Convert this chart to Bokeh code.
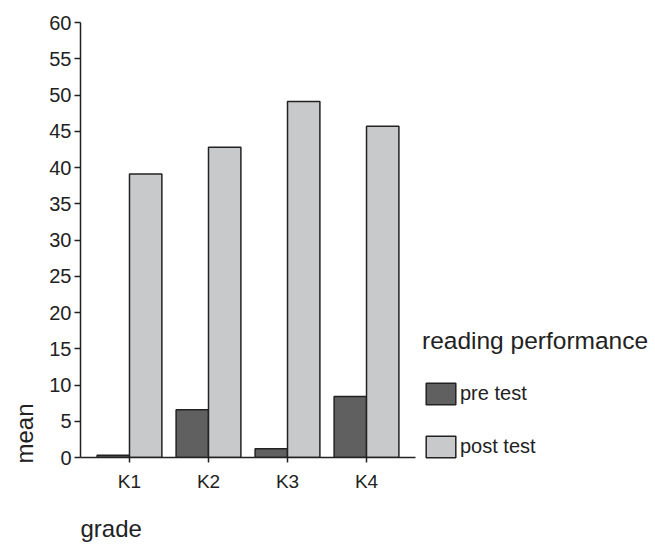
from bokeh.plotting import figure
from bokeh.models import ColumnDataSource, FixedTicker, Legend, LegendItem, Title, FactorRange
from bokeh.transform import dodge
from bokeh.embed import file_html
from bokeh.resources import INLINE

grades = ["K1", "K2", "K3", "K4"]
pre_test = [0.3, 6.6, 1.2, 8.4]
post_test = [39.1, 42.8, 49.1, 45.7]
y_ticks = list(range(0, 61, 5))

FONT = "Liberation Sans"
INK = "#222222"

src = ColumnDataSource(dict(grade=grades, pre=pre_test, post=post_test))

p = figure(x_range=FactorRange(factors=grades, range_padding=0.06), y_range=(0, 60),
           frame_width=335, frame_height=435, output_backend="svg", toolbar_location=None,
           min_border_left=80, min_border_top=22, min_border_bottom=90, min_border_right=2)
p.outline_line_color = None
p.grid.visible = False

w = 0.41
r_pre = p.vbar(x=dodge("grade", -w / 2, range=p.x_range), top="pre", width=w, source=src,
               fill_color="#606060", line_color=INK, line_width=1.5)
r_post = p.vbar(x=dodge("grade", w / 2, range=p.x_range), top="post", width=w, source=src,
                fill_color="#c8c9ca", line_color=INK, line_width=1.5)

for ax in (p.xaxis[0], p.yaxis[0]):
    ax.axis_line_color = INK
    ax.axis_line_width = 1.5
    ax.major_tick_line_color = INK
    ax.major_tick_line_width = 1.5
    ax.major_tick_in = 0
    ax.minor_tick_line_color = None
    ax.major_label_text_font = FONT
    ax.major_label_text_color = INK
p.yaxis.ticker = FixedTicker(ticks=y_ticks)
p.yaxis.major_tick_out = 6
p.yaxis.major_label_standoff = 3
p.yaxis.major_label_text_font_size = "20px"
p.xaxis.major_tick_out = 5
p.xaxis.major_label_standoff = 8
p.xaxis.major_label_text_font_size = "19px"

legend = Legend(items=[LegendItem(label="pre test", renderers=[r_pre]),
                       LegendItem(label="post test", renderers=[r_post])],
                title="reading performance", location=(7, -3))
legend.title_text_font = FONT
legend.title_text_font_size = "24.5px"
legend.title_text_font_style = "normal"
legend.title_text_color = INK
legend.title_standoff = 25
legend.label_text_font = FONT
legend.label_text_font_size = "20px"
legend.label_text_color = INK
legend.glyph_width = 37
legend.glyph_height = 27
legend.label_standoff = 1
legend.spacing = 26
legend.padding = 0
legend.margin = 0
legend.border_line_color = None
legend.background_fill_color = None
p.add_layout(legend, "right")

t_mean = Title(text="mean", align="left", offset=-6, vertical_align="top", text_font=FONT,
               text_font_size="24px", text_font_style="normal", text_color=INK, standoff=14)
p.add_layout(t_mean, "left")
t_grade = Title(text="grade", align="left", offset=0, text_font=FONT, text_font_size="24px",
                text_font_style="normal", text_color=INK, standoff=37)
p.add_layout(t_grade, "below")

open("out.html", "w").write(file_html(p, INLINE))
